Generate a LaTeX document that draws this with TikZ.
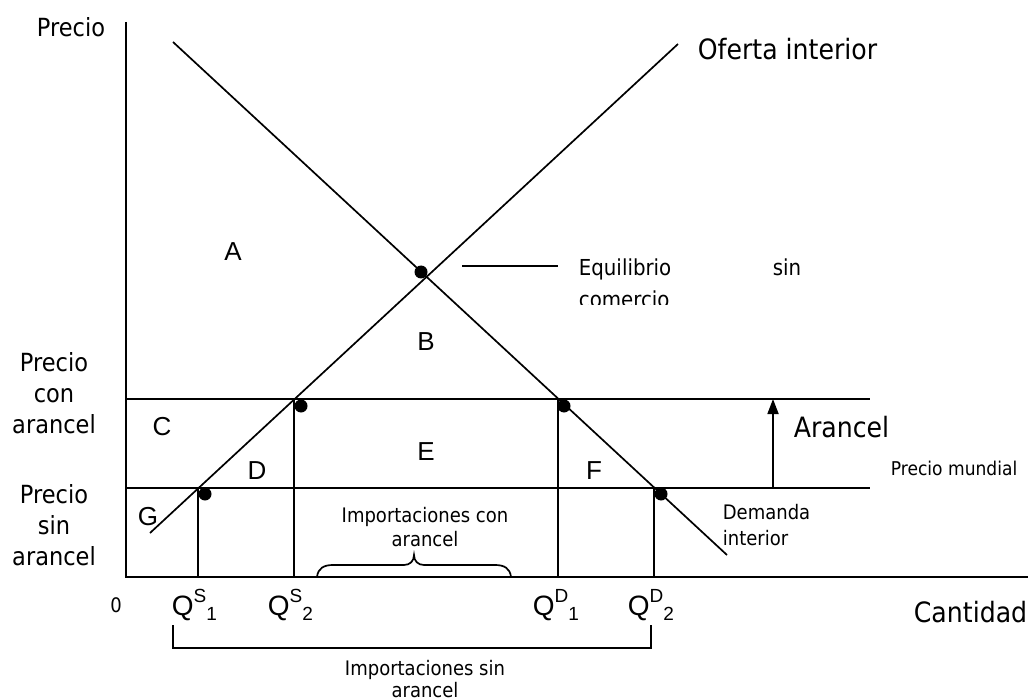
\documentclass[tikz,border=0pt]{standalone}
\usepackage{fontspec}
\setmainfont{Liberation Sans}
\newfontfamily\tah{DejaVu Sans}[FakeStretch=0.9]
\usetikzlibrary{arrows.meta}
\begin{document}
\begin{tikzpicture}[x=1pt,y=-1pt,line width=1.7pt,
  dot/.style={circle,fill=black,draw=none,inner sep=0pt,minimum size=13pt},
  lbl/.style={font=\fontsize{26}{30}\selectfont,inner sep=0pt},
  qlbl/.style={font=\fontsize{28}{30}\selectfont,inner sep=0pt,anchor=base west},
  txtL/.style={font=\tah\fontsize{25}{31}\selectfont,align=center,inner sep=0pt},
  txtB/.style={font=\tah\fontsize{28}{32}\selectfont,inner sep=0pt},
  txtS/.style={font=\tah\fontsize{20}{24}\selectfont,inner sep=0pt},
  txtM/.style={font=\tah\fontsize{22}{26}\selectfont,inner sep=0pt}]
\useasboundingbox (0,0) rectangle (1032,700);
\newcommand{\qsup}[2]{Q{\fontsize{19}{19}\selectfont\raisebox{13pt}{#1}\raisebox{-5pt}{#2}}}
% axes
\coordinate (yt) at (126,22);
\coordinate (o) at (126,577);
\coordinate (xe) at (1028,577);
\draw (yt) -- (o) -- (xe);
% supply and demand
\coordinate (s0) at (150,533);
\coordinate (s1) at (678,44);
\coordinate (d0) at (173,42);
\coordinate (d1) at (727,555);
\draw (s0) -- (s1);
\draw (d0) -- (d1);
% price lines
\coordinate (pt0) at (126,399);
\coordinate (pt1) at (870,399);
\coordinate (pw0) at (126,488);
\coordinate (pw1) at (870,488);
\draw (pt0) -- (pt1);
\draw (pw0) -- (pw1);
% verticals
\coordinate (qs1t) at (198,488); \coordinate (qs1b) at (198,577);
\coordinate (qs2t) at (294,399); \coordinate (qs2b) at (294,577);
\coordinate (qd1t) at (558,399); \coordinate (qd1b) at (558,577);
\coordinate (qd2t) at (654,488); \coordinate (qd2b) at (654,577);
\draw (qs1t) -- (qs1b);
\draw (qs2t) -- (qs2b);
\draw (qd1t) -- (qd1b);
\draw (qd2t) -- (qd2b);
% dots
\node[dot] (eq) at (421,272) {};
\node[dot] (ds1) at (205,494) {};
\node[dot] (ds2) at (301,406) {};
\node[dot] (dd1) at (564,406) {};
\node[dot] (dd2) at (661,494) {};
% equilibrium leader
\coordinate (l0) at (462,266);
\coordinate (l1) at (558,266);
\draw (l0) -- (l1);
\node[txtM,anchor=base west] (eqa) at (578,276) {Equilibrio};
\node[txtM,anchor=base east] (eqb) at (802,276) {sin};
\begin{scope}
\clip (560,280) rectangle (820,304);
\node[txtM,anchor=base west] (eqc) at (578,307) {comercio};
\end{scope}
% tariff arrow
\coordinate (a0) at (773,488);
\coordinate (a1) at (773,399);
\draw[-{Triangle[length=15pt,width=11pt]}] (a0) -- (a1);
% area letters
\node[lbl] (A) at (233,252) {A};
\node[lbl] (B) at (426,342) {B};
\node[lbl] (C) at (162,427) {C};
\node[lbl] (D) at (257,471) {D};
\node[lbl] (E) at (426,452) {E};
\node[lbl] (F) at (594,471) {F};
\node[lbl] (G) at (148,517) {G};
% texts
\node[txtL] (precio) at (71,27) {Precio};
\node[txtB,anchor=base west] (oferta) at (697,60) {Oferta interior};
\node[txtL] (pca) at (54,393) {Precio\\con\\arancel};
\node[txtL] (psa) at (54,525) {Precio\\sin\\arancel};
\node[txtB,anchor=west] (arancel) at (793,427) {Arancel};
\node[font=\tah\fontsize{19}{23}\selectfont,inner sep=0pt,anchor=west] (pm) at (890,468) {Precio mundial};
\node[align=left,anchor=west,inner sep=0pt,font=\tah\fontsize{20}{26}\selectfont] (dem) at (722,525) {Demanda\\interior};
\node[txtS,anchor=base] (ica) at (425,522) {Importaciones con};
\node[txtS,anchor=base] (icb) at (425,546) {arancel};
% brace
\coordinate (b0) at (317,577);
\coordinate (bl) at (333,565);
\coordinate (bm1) at (404,565);
\coordinate (btip) at (414,555);
\coordinate (bm2) at (424,565);
\coordinate (br) at (495,565);
\coordinate (b1) at (511,577);
\draw (b0) .. controls (318,568) and (324,565) .. (bl) -- (bm1)
  .. controls (410,565) and (414,561) .. (btip)
  .. controls (414,561) and (418,565) .. (bm2) -- (br)
  .. controls (504,565) and (510,568) .. (b1);
% bottom labels
\node[txtS,anchor=base] (zero) at (116,612) {0};
\node[qlbl] (lqs1) at (171,615) {\qsup{S}{1}};
\node[qlbl] (lqs2) at (267,615) {\qsup{S}{2}};
\node[qlbl] (lqd1) at (532,615) {\qsup{D}{1}};
\node[qlbl] (lqd2) at (627,615) {\qsup{D}{2}};
\node[txtB,anchor=base west] (cant) at (913,622) {Cantidad};
% bottom bracket
\coordinate (k0) at (173,625);
\coordinate (k1) at (173,648);
\coordinate (k2) at (651,648);
\coordinate (k3) at (651,625);
\draw (k0) -- (k1) -- (k2) -- (k3);
\node[txtS,anchor=base] (isa) at (425,675) {Importaciones sin};
\node[txtS,anchor=base] (isb) at (425,697) {arancel};
\end{tikzpicture}
\end{document}
